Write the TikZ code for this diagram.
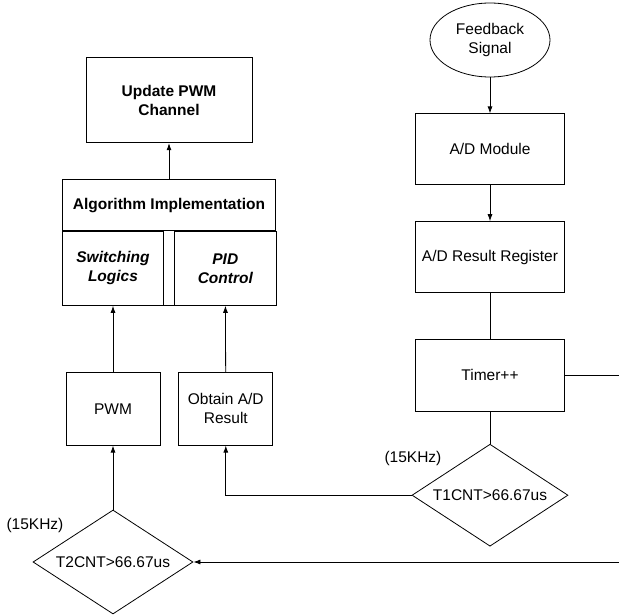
\documentclass[tikz,border=0pt]{standalone}
\usepackage{fontspec}
\setmainfont{Liberation Sans}
\usetikzlibrary{positioning, arrows.meta, shapes.geometric}

\begin{document}
\begin{tikzpicture}[
    x=1pt, y=-1pt,
    node distance=36pt and 18pt,
    every node/.style={
        align=center,
        font=\fontsize{15.5}{19}\selectfont,
        inner sep=2pt
    },
    box/.style={draw, minimum width=149pt, minimum height=71pt},
    smallbox/.style={draw, minimum width=94pt, minimum height=73pt},
    cell/.style={draw, minimum width=101pt, minimum height=74pt,
        font=\fontsize{15.5}{19}\selectfont\bfseries\itshape},
    bold/.style={font=\fontsize{15.5}{19}\selectfont\bfseries},
    check/.style={draw, diamond, aspect=1.5, minimum width=156pt,
        minimum height=102pt, inner sep=1pt},
    freq/.style={inner sep=0pt},
    arrow/.style={-{Latex[length=7pt,width=5pt]}},
    line width=0.8pt
]
\useasboundingbox (0,0) rectangle (619,615);

%  Right column 
\node[draw, ellipse, minimum width=120pt, minimum height=74pt, inner sep=0pt] (fb) at (490,40) {Feedback\\Signal};
\node[box] (adc) [below=of fb] {A/D Module};
\node[box] (res) [below=of adc] {A/D Result Register};
\node[box, minimum height=72pt] (tmr) [below=46pt of res] {Timer++};
\node[check] (t1) [below=32pt of tmr] {T1CNT>66.67us};
\node[freq] (f1) [above left=3pt and 9pt of t1.north west] {(15KHz)};

%  Left column 
\node[check, minimum width=160pt, minimum height=104pt] (t2) at (113,562) {T2CNT>66.67us};
\node[freq] (f2) [above left=3pt and 9pt of t2.north west] {(15KHz)};
\node[smallbox] (pwm) [above=64pt of t2] {PWM};
\node[smallbox] (obt) [right=of pwm] {Obtain A/D\\Result};
\node[cell] (sw) [above=66pt of pwm] {Switching\\Logics};
\node[cell, minimum width=102pt] (pid) [right=10pt of sw] {PID\\Control};
\node[draw, bold, minimum width=213pt, minimum height=51pt, anchor=south west] (alg) at (sw.north west) {Algorithm Implementation};
\node[draw, bold, minimum width=166pt, minimum height=85pt] (upd) [above=of alg] {Update PWM\\Channel};

\coordinate (rim) at (619,0);

%  Arrows 
\draw[arrow] (fb) -- (adc);
\draw[arrow] (adc) -- (res);
\draw (res) -- (tmr);
\draw (tmr) -- (t1);
\draw (tmr.east) -- (tmr.east -| rim);
\draw[arrow] (t1.west) -| (obt.south);
\draw[arrow] (t2.east -| rim) -- (t2.east);
\draw[arrow] (t2) -- (pwm);
\draw[arrow] (pwm) -- (sw);
\draw[arrow] (obt) -- (pid);
\draw (sw.south east) -- (pid.south west);
\draw[arrow] (alg) -- (upd);

\end{tikzpicture}
\end{document}
